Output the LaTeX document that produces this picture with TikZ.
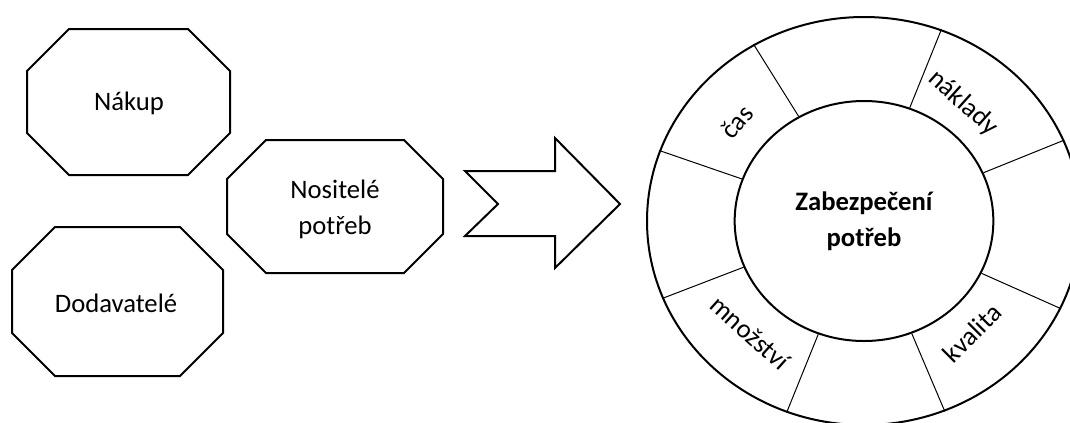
\documentclass[tikz,border=0pt]{standalone}
\usepackage{fontspec}
\setmainfont{Carlito}
\usetikzlibrary{shapes.geometric}

\tikzset{
  boxline/.style={line width=1.5pt, line join=miter},
  divline/.style={line width=0.75pt},
  lbl/.style={font=\fontsize{20}{27}\selectfont, align=center, inner sep=0pt},
}
% octagon: x1 y1 x2 y2 cut
\newcommand{\octabox}[5]{%
  \draw [boxline] (#1+#5,#2) -- (#3-#5,#2) -- (#3,#2+#5) -- (#3,#4-#5)
    -- (#3-#5,#4) -- (#1+#5,#4) -- (#1,#4-#5) -- (#1,#2+#5) -- cycle;}

\begin{document}
\begin{tikzpicture}[x=0.75pt,y=-0.75pt]
		\useasboundingbox (0,0) rectangle (1070,422);

		% left boxes
		\octabox{27}{29}{230}{175}{42}
		\octabox{227}{140}{443}{273}{39}
		\octabox{12}{227}{223}{376}{43}
		\node [lbl] (nakup) at (129,103) {Nákup};
		\node [lbl] (nositele) at (335,209) {Nositelé\\potřeb};
		\node [lbl] (dodavatele) at (116,303) {Dodavatelé};

		% big arrow
		\draw [boxline] (465,171) -- (555,171) -- (555,138) -- (620,204)
			-- (555,268) -- (555,236) -- (465,236) -- (498,204) -- cycle;

		% ring
		\coordinate (ctr) at (864,221);
		\node [draw, boxline, ellipse, inner sep=0pt, minimum width=325.5pt,
			minimum height=306pt] (ring) at (ctr) {};
		\node [draw, boxline, ellipse, inner sep=0pt, minimum width=194pt,
			minimum height=180pt, lbl, font=\fontsize{20}{27}\selectfont\bfseries]
			(core) at (ctr) {Zabezpečení\\potřeb};
		\foreach \a in {22,68,122,161,201,248,293,336}
			\draw [divline] (core.\a) -- (ring.\a);

		\node [lbl, rotate=50] (cas) at (737,122) {čas};
		\node [lbl, rotate=-42] (naklady) at (963,103) {náklady};
		\node [lbl, rotate=45] (kvalita) at (972,333) {kvalita};
		\node [lbl, rotate=-42] (mnozstvi) at (750,333) {množství};
\end{tikzpicture}
\end{document}
